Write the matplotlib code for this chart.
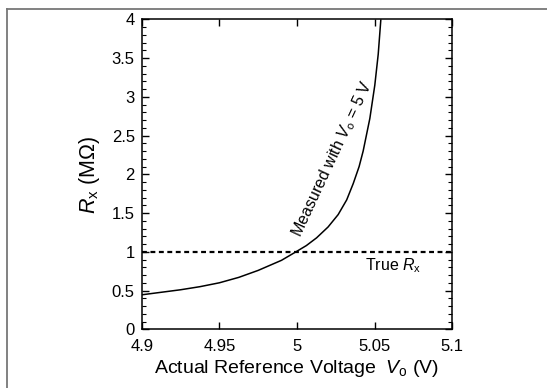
# Measured Rx versus actual reference voltage

import numpy as np
import matplotlib
matplotlib.use("Agg")
import matplotlib.pyplot as plt
from matplotlib.lines import Line2D

plt.rcParams['font.family'] = 'Liberation Sans'
plt.rcParams['mathtext.fontset'] = 'custom'
plt.rcParams['mathtext.rm'] = 'Liberation Sans'
plt.rcParams['mathtext.it'] = 'Liberation Sans:italic'

# values
vo = [4.900, 4.925, 4.9375, 4.950, 4.9625, 4.975, 4.990, 4.9985, 5.006,
      5.0126, 5.0200, 5.0265, 5.0320, 5.0362, 5.0400, 5.0426, 5.0469,
      5.0501, 5.0523, 5.0540]
rx_meas = [0.445, 0.51, 0.55, 0.60, 0.67, 0.76, 0.89, 0.99, 1.08,
           1.18, 1.32, 1.48, 1.67, 1.88, 2.10, 2.30, 2.72,
           3.15, 3.55, 4.00]
rx_true = 1.0

xticks = [4.9, 4.95, 5.0, 5.05, 5.1]
xticklabels = ['4.9', '4.95', '5', '5.05', '5.1']
yticks = [0, 0.5, 1, 1.5, 2, 2.5, 3, 3.5, 4]
yticklabels = ['0', '0.5', '1', '1.5', '2', '2.5', '3', '3.5', '4']

W, H = 547, 388
fig = plt.figure(figsize=(W/100, H/100), dpi=100)
ax = fig.add_axes([141.7/W, 1-329.3/H, 310.6/W, 310.0/H])

ax.plot(vo, rx_meas, color='black', lw=1.1, solid_capstyle='butt',
        solid_joinstyle='round')
ax.axhline(rx_true, color='black', lw=1.6, linestyle=(0, (2.2, 1.6)))

ax.set_xlim(4.9, 5.1)
ax.set_ylim(0, 4)
ax.set_xticks(xticks)
ax.set_xticklabels(xticklabels)
ax.set_yticks(yticks)
ax.set_yticklabels(yticklabels)
ax.set_yticks(np.arange(0, 4.01, 0.1), minor=True)
ax.tick_params(axis='both', which='major', direction='in', length=5, width=1,
               labelsize=12, top=True, right=True, color='black')
ax.tick_params(axis='y', which='minor', direction='in', length=3, width=0.8,
               right=True)
ax.tick_params(axis='x', which='major', pad=7)
ax.tick_params(axis='y', which='major', pad=5)
for s in ax.spines.values():
    s.set_linewidth(1.1)

ax.set_xlabel(r'Actual Reference Voltage  $V_\mathrm{o}$ (V)', fontsize=14,
              labelpad=3)
ax.set_ylabel(r'$R_\mathrm{x}$ (M$\Omega$)', fontsize=15.5, labelpad=7)

ax.text(5.0228, 2.2, r'Measured with $V_\mathrm{o}$ = 5 V', rotation=65,
        ha='center', va='center', fontsize=11.5, rotation_mode='anchor')
ax.text(5.0437, 0.82, r'True $R_\mathrm{x}$', ha='left', va='center',
        fontsize=11.5)

# grey frame around the figure (top and left edges visible)
fig.add_artist(Line2D([7.3/W, 1.0], [1-8.7/H, 1-8.7/H], color='#777777',
                      lw=1.3, transform=fig.transFigure))
fig.add_artist(Line2D([7.3/W, 7.3/W], [0.0, 1-8.7/H], color='#777777',
                      lw=1.3, transform=fig.transFigure))

fig.savefig('out.png', dpi=100)
